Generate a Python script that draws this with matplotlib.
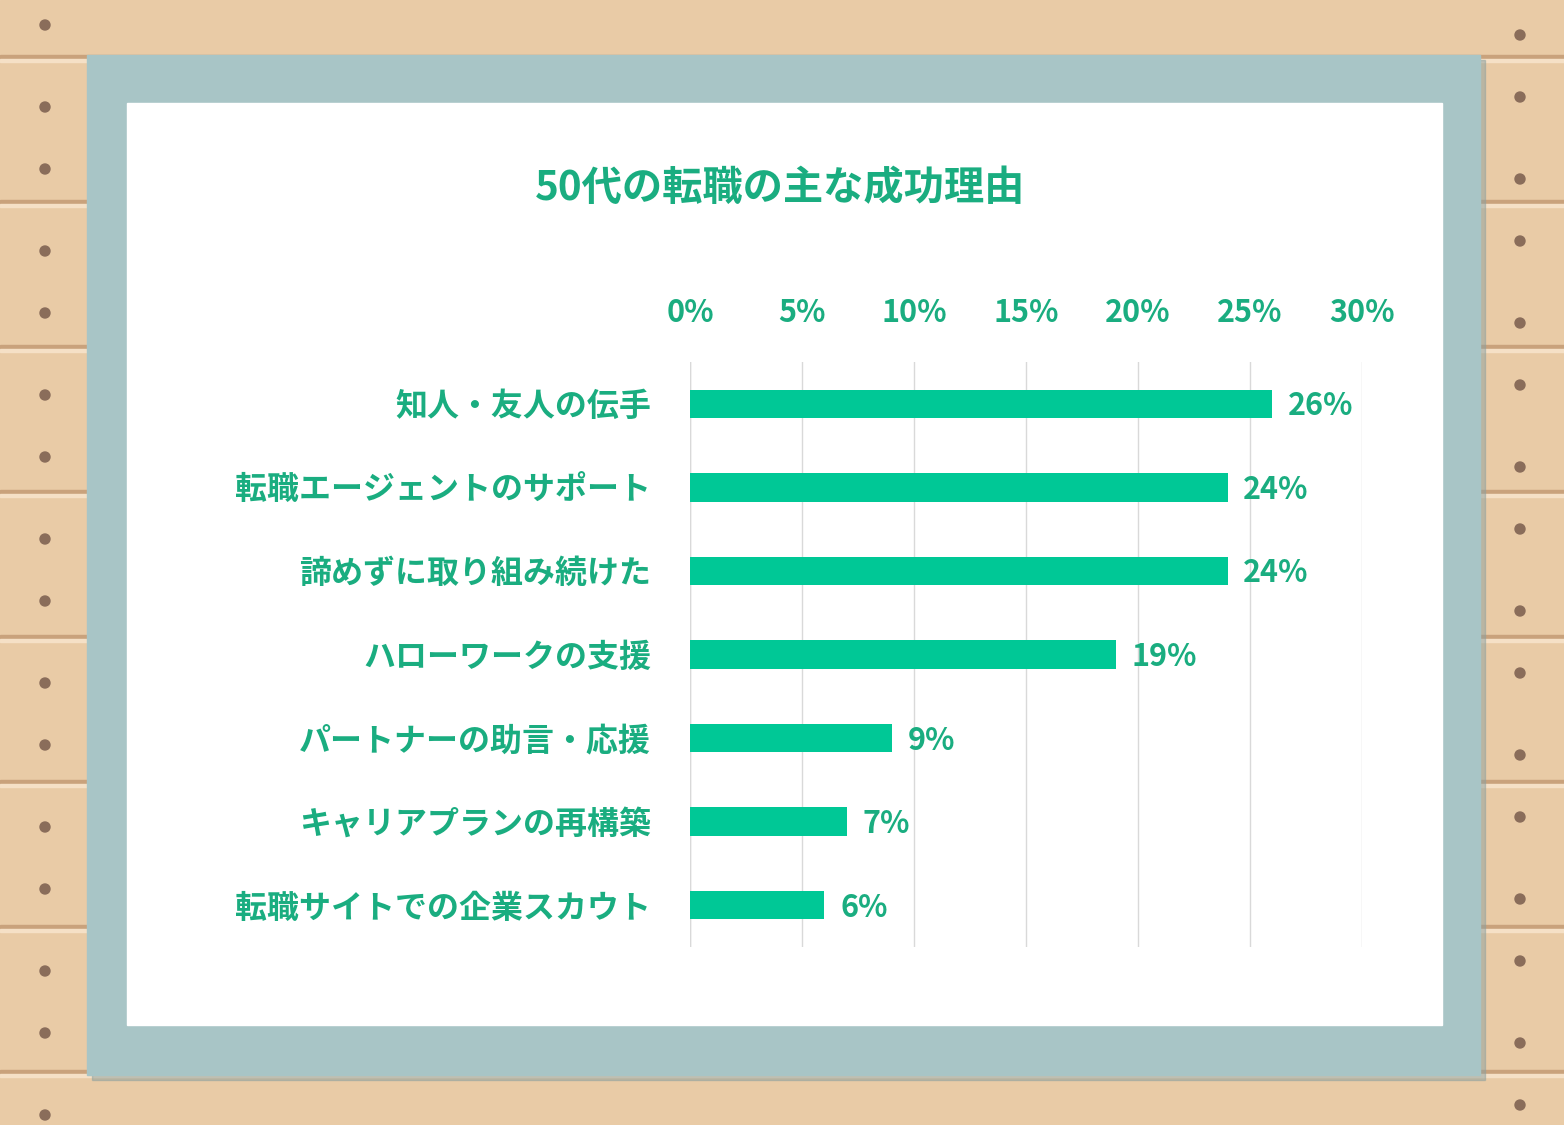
import matplotlib
matplotlib.use("Agg")
import matplotlib.pyplot as plt
from matplotlib.patches import Rectangle, Circle

categories = ["知人・友人の伝手", "転職エージェントのサポート", "諦めずに取り組み続けた",
              "ハローワークの支援", "パートナーの助言・応援", "キャリアプランの再構築",
              "転職サイトでの企業スカウト"]
values = [26, 24, 24, 19, 9, 7, 6]
ticks = [0, 5, 10, 15, 20, 25, 30]
tick_labels = ["0%", "5%", "10%", "15%", "20%", "25%", "30%"]

FONT = "Noto Sans CJK JP"
TXT = "#1aad80"
BAR = "#00c896"
W, H = 1564, 1125
fig = plt.figure(figsize=(W/100, H/100), dpi=100)

bg = fig.add_axes([0, 0, 1, 1]); bg.set_xlim(0, W); bg.set_ylim(H, 0); bg.axis("off")
bg.add_patch(Rectangle((0, 0), W, H, color="#e9cba6"))
for y in range(55, H, 145):
    bg.add_patch(Rectangle((0, y), W, 4, color="#c9a27c"))
    bg.add_patch(Rectangle((0, y+4), W, 3, color="#f5e0c6"))
for i, y in enumerate(range(25, H, 72)):
    bg.add_patch(Circle((45, y + (i % 2) * 10), 5, color="#8a6d5a"))
    bg.add_patch(Circle((1520, y + ((i+1) % 2) * 10), 5, color="#8a6d5a"))
bg.add_patch(Rectangle((92, 60), 1393, 1020, color="#8aa0a0", alpha=0.5))
bg.add_patch(Rectangle((87, 55), 1393, 1020, color="#a8c5c6"))
bg.add_patch(Rectangle((127, 103), 1315, 922, color="white"))
bg.text(780, 188, "50代の転職の主な成功理由", ha="center", va="center",
        fontsize=29, fontweight="bold", color=TXT, family=FONT)

ax = fig.add_axes([690/W, 1-947/H, 672/W, 585/H])
y = list(range(len(categories)))
ax.barh(y, values, height=0.34, color=BAR, zorder=2)
ax.set_xlim(0, 30); ax.set_ylim(6.5, -0.5)
ax.xaxis.tick_top()
ax.set_xticks(ticks)
ax.set_xticklabels(tick_labels, fontsize=22, fontweight="bold", color=TXT, family=FONT)
ax.tick_params(axis="x", length=0, pad=24)
ax.set_yticks(y)
ax.set_yticklabels(categories, fontsize=23, fontweight="bold", color=TXT, family=FONT)
ax.tick_params(axis="y", length=0, pad=28)
ax.grid(axis="x", color="#d9d9d9", lw=1, zorder=0)
for s in ax.spines.values(): s.set_visible(False)
ax.axvline(0, color="#d9d9d9", lw=1, zorder=1)
for yi, v in zip(y, values):
    ax.text(v + 0.7, yi + 0.03, f"{v}%", va="center", ha="left", fontsize=22,
            fontweight="bold", color=TXT, family=FONT)
fig.savefig("out.png", dpi=100)
